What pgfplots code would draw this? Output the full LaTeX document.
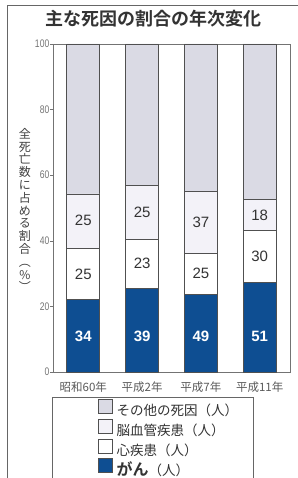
\documentclass[border=0pt]{standalone}
\usepackage{pgfplots}
\pgfplotsset{compat=1.18}
\usepackage{fontspec}
\setmainfont{Liberation Sans}
\newfontfamily\jp{Noto Sans CJK JP}[BoldFont={Noto Sans CJK JP Bold}]
\newfontfamily\narrow{Liberation Sans}[FakeStretch=0.78]
\definecolor{cblue}{HTML}{0E4E92}
\definecolor{cgray}{HTML}{DADAE4}
\definecolor{clav}{HTML}{F3F2F8}
\definecolor{cedge}{HTML}{505050}
\definecolor{ctext}{HTML}{333333}
\pgfplotsset{
  mylegend/.style={legend image code/.code={
    \path (-46pt,0pt);
    \draw[##1,line width=0.6pt] (0pt,-2pt) rectangle (14pt,12pt);}},
  common/.style={scale only axis, width=237pt, height=328pt,
    xmin=-0.515, xmax=3.515, ymin=0, ymax=100},
}
\begin{document}
\begin{tikzpicture}
\path[use as bounding box] (-53pt,-106pt) rectangle (244pt,372pt);
\begin{axis}[common,
  ybar stacked, bar width=33pt,
  axis line style={draw=black!55, line width=0.6pt},
  xtick={0,1,2,3},
  xticklabels={昭和60年,平成2年,平成7年,平成11年},
  xticklabel style={font=\jp\fontsize{11.5}{12}\selectfont, text=black!65, anchor=center, yshift=-12pt},
  major x tick style={draw=none},
  ytick={0,20,40,60,80,100}, ytick pos=left,
  /pgf/number format/assume math mode=true,
  yticklabel style={font=\narrow\fontsize{11}{11}\selectfont, text=black!55, inner xsep=0.5pt},
  major y tick style={draw=black!55, line width=0.5pt},
  tick align=outside, major tick length=3pt,
  title={\jp\bfseries 主な死因の割合の年次変化},
  title style={font=\fontsize{18}{18}\selectfont, text=ctext, at={(axis description cs:0.426,1.058)}, anchor=center},
  ylabel={全\\死\\亡\\数\\に\\占\\め\\る\\割\\合\\︵\\\%\\︶},
  ylabel style={font=\jp\fontsize{12}{12.8}\selectfont, text=black!75, align=center, rotate=-90, at={(rel axis cs:0,0.494)}, anchor=center, xshift=-28pt},
  reverse legend, legend cell align=left,
  legend style={at={(-0.004,-0.076)}, anchor=north west, draw=black!60, line width=0.6pt,
    inner xsep=0pt, inner ysep=2pt, row sep=0pt, column sep=3.7pt,
    font=\jp\fontsize{13.5}{13.5}\selectfont, text=black!80,
    nodes={inner sep=0pt, text height=11.9pt, text depth=3.0pt, text width=137pt}},
]
\addplot[fill=cblue, draw=cedge, line width=0.7pt, mylegend] coordinates {(0,22.0) (1,25.6) (2,23.7) (3,27.2)};
\addlegendentry{{\bfseries\fontsize{16}{16}\selectfont がん}（人）}
\addplot[fill=white, draw=cedge, line width=0.7pt, mylegend] coordinates {(0,15.8) (1,14.9) (2,12.5) (3,15.9)};
\addlegendentry{心疾患（人）}
\addplot[fill=clav, draw=cedge, line width=0.7pt, mylegend] coordinates {(0,16.5) (1,16.5) (2,18.8) (3,9.5)};
\addlegendentry{脳血管疾患（人）}
\addplot[fill=cgray, draw=cedge, line width=0.7pt, mylegend] coordinates {(0,45.7) (1,43.0) (2,45.0) (3,47.4)};
\addlegendentry{その他の死因（人）}
\end{axis}
\begin{axis}[common, hide axis]
\addplot[only marks, mark=none, nodes near coords, point meta=explicit symbolic,
  every node near coord/.append style={anchor=center, font=\bfseries\fontsize{15}{15}\selectfont, text=white}]
  coordinates {(0,11) [34] (1,11) [39] (2,11) [49] (3,11) [51]};
\addplot[only marks, mark=none, nodes near coords, point meta=explicit symbolic,
  every node near coord/.append style={anchor=center, font=\fontsize{15}{15}\selectfont, text=ctext}]
  coordinates {(0,29.9) [25] (1,33.05) [23] (2,29.95) [25] (3,35.15) [30]};
\addplot[only marks, mark=none, nodes near coords, point meta=explicit symbolic,
  every node near coord/.append style={anchor=center, font=\fontsize{15}{15}\selectfont, text=ctext}]
  coordinates {(0,46.1) [25] (1,48.75) [25] (2,45.6) [37] (3,47.85) [18]};
\end{axis}
\draw[black!60, line width=0.8pt] (-46pt,-120pt) -- (-46pt,367pt) -- (260pt,367pt);
\end{tikzpicture}
\end{document}
